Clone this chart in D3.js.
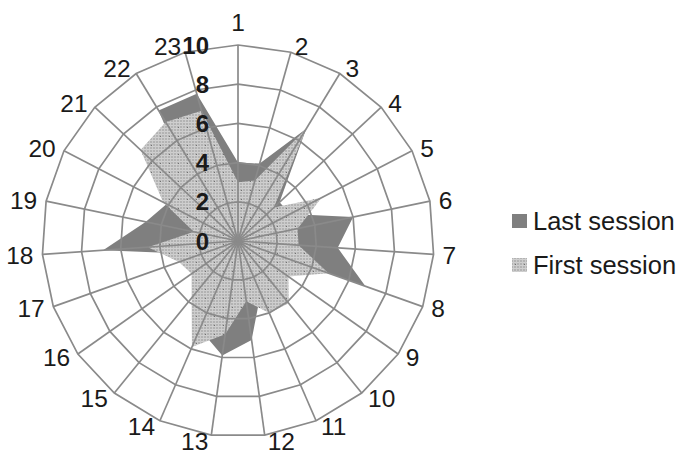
<!DOCTYPE html>
<html>
<head>
<meta charset="utf-8">
<script src="https://cdn.jsdelivr.net/npm/d3@7"></script>
<style>
  html, body { margin: 0; padding: 0; background: #ffffff; }
  svg { display: block; }
</style>
</head>
<body>
<svg id="chart" width="681" height="454"></svg>
<script>
// Axis categories (items 1..23)
const categories = d3.range(1, 24).map(String);
// Series values per category
const lastSession  = [4.0, 4.1, 6.7, 2.9, 3.0, 6.0, 5.1, 6.9, 0.0, 2.5, 2.9, 5.1, 5.9, 4.9, 2.5, 2.0, 2.0, 6.9, 4.8, 4.1, 2.8, 7.8, 7.8];
const firstSession = [3.0, 3.2, 6.7, 2.5, 4.8, 3.1, 3.1, 4.9, 3.15, 4.1, 4.0, 3.1, 4.8, 5.9, 3.75, 2.9, 3.2, 4.6, 2.3, 4.3, 6.8, 7.1, 6.9];
// Radial tick values
const radialTicks = [0, 2, 4, 6, 8, 10];
const seriesNames = ["Last session", "First session"];

const svg = d3.select("#chart");
const cx = 238, cy = 241, outerR = 196;

const r = d3.scaleLinear().domain([0, 10]).range([0, outerR]);
const angle = d3.scaleLinear().domain([0, categories.length]).range([0, 2 * Math.PI]);

const pt = (i, v) => {
  const a = angle(i);
  return [cx + r(v) * Math.sin(a), cy - r(v) * Math.cos(a)];
};

// Fill pattern for the first-session area: grey fine grid with sparse dots
const defs = svg.append("defs");
const pat = defs.append("pattern")
  .attr("id", "gridFill")
  .attr("patternUnits", "userSpaceOnUse")
  .attr("width", 9).attr("height", 9);
pat.append("rect").attr("width", 9).attr("height", 9).attr("fill", "#b3b3b3");
[1, 4, 7].forEach(k => {
  pat.append("rect").attr("x", 0).attr("y", k).attr("width", 9).attr("height", 1).attr("fill", "#d0d0d0");
  pat.append("rect").attr("x", k).attr("y", 0).attr("width", 1).attr("height", 9).attr("fill", "#cbcbcb");
});
pat.append("rect").attr("x", 3).attr("y", 3).attr("width", 1).attr("height", 1).attr("fill", "#707070");

const radarLine = d3.lineRadial()
  .angle((d, i) => angle(i))
  .radius(d => r(d))
  .curve(d3.curveLinearClosed);

const g = svg.append("g").attr("transform", `translate(${cx},${cy})`);

// Series areas: last session underneath, first session on top
g.append("path")
  .attr("d", radarLine(lastSession))
  .attr("fill", "#7f7f7f");
g.append("path")
  .attr("d", radarLine(firstSession))
  .attr("fill", "url(#gridFill)");

// Grid rings (polygons) and spokes
const gridColor = "#8a8a8a";
radialTicks.filter(t => t > 0).forEach(t => {
  g.append("path")
    .attr("d", radarLine(categories.map(() => t)))
    .attr("fill", "none")
    .attr("stroke", gridColor)
    .attr("stroke-width", 1.7);
});
categories.forEach((c, i) => {
  const [x, y] = pt(i, 10);
  svg.append("line")
    .attr("x1", cx).attr("y1", cy)
    .attr("x2", x).attr("y2", y)
    .attr("stroke", gridColor)
    .attr("stroke-width", 1.7);
});

// Radial tick labels, right-aligned beside the first spoke
radialTicks.forEach(t => {
  svg.append("text")
    .attr("x", cx - 29)
    .attr("y", cy - r(t))
    .attr("dy", "0.36em")
    .attr("text-anchor", "end")
    .attr("font-family", "Liberation Sans, Arial, sans-serif")
    .attr("font-weight", "bold")
    .attr("font-size", 24)
    .attr("fill", "#1a1a1a")
    .text(t);
});

// Category labels around the outer ring
categories.forEach((c, i) => {
  const a = angle(i);
  const s = Math.sin(a), co = Math.cos(a);
  const [vx, vy] = pt(i, 10);
  let anchor, x, y;
  if (Math.abs(s) < 0.05) {
    anchor = "middle"; x = vx; y = vy - 23;
  } else {
    const gap = 2 + 7 * Math.abs(s);
    anchor = s > 0 ? "start" : "end";
    x = vx + (s > 0 ? gap : -gap);
    y = vy - 6 * co;
  }
  svg.append("text")
    .attr("x", x).attr("y", y)
    .attr("dy", "0.36em")
    .attr("text-anchor", anchor)
    .attr("font-family", "Liberation Sans, Arial, sans-serif")
    .attr("font-size", 24.5)
    .attr("fill", "#1a1a1a")
    .text(c);
});

// Legend
const legend = svg.append("g").attr("transform", "translate(512,0)");
const legendY = d3.scalePoint().domain(seriesNames).range([221, 265]);
seriesNames.forEach((name, k) => {
  const y = legendY(name);
  legend.append("rect")
    .attr("x", 0).attr("y", y - 7)
    .attr("width", 15).attr("height", 14)
    .attr("fill", k === 0 ? "#7f7f7f" : "url(#gridFill)");
  legend.append("text")
    .attr("x", 21).attr("y", y)
    .attr("dy", "0.36em")
    .attr("font-family", "Liberation Sans, Arial, sans-serif")
    .attr("font-size", 25.5)
    .attr("fill", "#1a1a1a")
    .text(name);
});
</script>
</body>
</html>
